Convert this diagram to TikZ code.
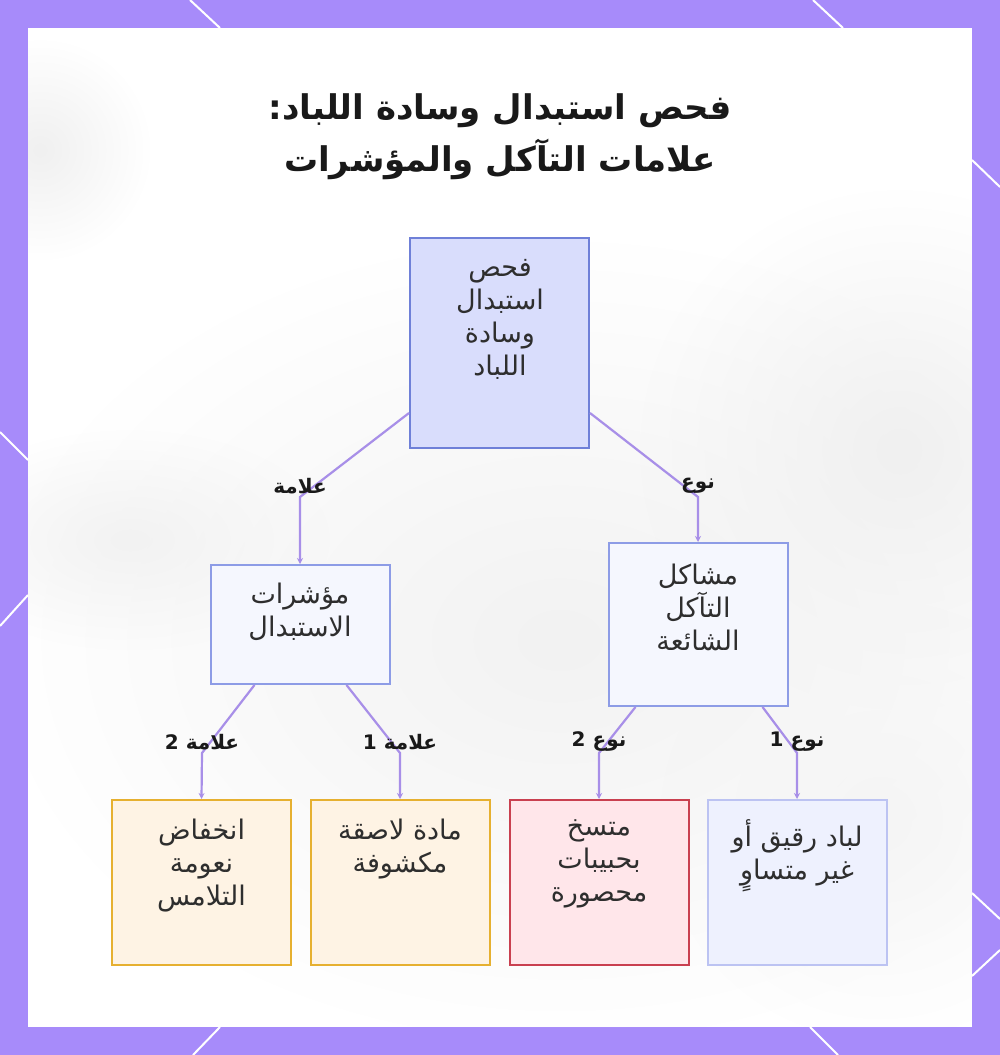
\documentclass[tikz,border=0pt]{standalone}
\usepackage{fontspec}
\usetikzlibrary{arrows.meta,fadings,calc}
\TeXXeTstate=1
\newfontfamily\arabicfont[Script=Arabic]{DejaVu Sans}
\newcommand{\ar}[1]{{\arabicfont\beginR #1\endR}}
\definecolor{frame}{HTML}{A78BFA}
\definecolor{conn}{HTML}{A88FE8}
\definecolor{rootfill}{HTML}{D9DDFC}
\definecolor{rootdraw}{HTML}{6F80D8}
\definecolor{midfill}{HTML}{F5F7FE}
\definecolor{middraw}{HTML}{8D9CE6}
\definecolor{orfill}{HTML}{FEF3E4}
\definecolor{ordraw}{HTML}{E6B030}
\definecolor{redfill}{HTML}{FFE6EA}
\definecolor{reddraw}{HTML}{C94050}
\definecolor{lavfill}{HTML}{EEF1FE}
\definecolor{lavdraw}{HTML}{BCC3F2}
\tikzfading[name=softblob, inner color=transparent!0, outer color=transparent!100]
\begin{document}
\begin{tikzpicture}[x=1pt,y=-1pt,
  box/.style={line width=2pt, minimum width=179pt, inner sep=0pt},
  boxtext/.style={align=center, anchor=north, inner sep=0pt, text=black!82,
    font=\fontsize{27}{33}\selectfont},
  edge/.style={draw=conn, line width=2.2pt, -{Stealth[length=6pt,width=6pt]}},
  lbl/.style={inner sep=1pt, text=black!90, font=\fontsize{20}{22}\selectfont\bfseries},
  ttl/.style={align=center, inner sep=0pt, text=black!90, font=\fontsize{34}{52}\selectfont\bfseries},
  deco/.style={white, line width=2pt}
]
\useasboundingbox (0,0) rectangle (1000,1055);
% frame
\fill[frame] (0,0) rectangle (1000,1055);
\draw[deco] (190,0) -- (220,28);
\draw[deco] (813,0) -- (843,28);
\draw[deco] (972,160) -- (1000,187);
\draw[deco] (972,893) -- (1000,919);
\draw[deco] (1000,950) -- (972,976);
\draw[deco] (0,432) -- (28,460);
\draw[deco] (28,595) -- (0,626);
\draw[deco] (193,1055) -- (220,1027);
\draw[deco] (810,1027) -- (838,1055);
\fill[white] (28,28) rectangle (972,1027);
% faint blurred background
\begin{scope}
\clip (28,28) rectangle (972,1027);
\fill[black!6, path fading=softblob] (40,150) circle (110);
\fill[black!5, path fading=softblob] (560,640) ellipse [x radius=560, y radius=400];
\fill[black!6, path fading=softblob] (900,450) circle (260);
\fill[black!5, path fading=softblob] (130,540) ellipse [x radius=200, y radius=110];
\fill[black!4, path fading=softblob] (880,820) circle (220);
\end{scope}
% title
\node[ttl] (title) at (500,137) {\ar{فحص استبدال وسادة اللباد:}\\ \ar{علامات التآكل والمؤشرات}};
% boxes
\node[box, draw=rootdraw, fill=rootfill, minimum height=210pt] (root) at (499.5,343) {};
\node[box, draw=middraw, fill=midfill, minimum height=119pt] (lm) at (300,624.5) {};
\node[box, draw=middraw, fill=midfill, minimum height=163pt] (rm) at (698,624.5) {};
\node[box, draw=ordraw, fill=orfill, minimum height=165pt] (b1) at (201.5,882.5) {};
\node[box, draw=ordraw, fill=orfill, minimum height=165pt] (b2) at (400,882.5) {};
\node[box, draw=reddraw, fill=redfill, minimum height=165pt] (b3) at (599,882.5) {};
\node[box, draw=lavdraw, fill=lavfill, minimum height=165pt] (b4) at (797,882.5) {};
% box texts
\node[boxtext] (troot) at (500,259) {\ar{فحص}\\ \ar{استبدال}\\ \ar{وسادة}\\ \ar{اللباد}};
\node[boxtext] (tlm) at (300,583) {\ar{مؤشرات}\\ \ar{الاستبدال}};
\node[boxtext] (trm) at (698,564) {\ar{مشاكل}\\ \ar{التآكل}\\ \ar{الشائعة}};
\node[boxtext] (tb1) at (201.5,819) {\ar{انخفاض}\\ \ar{نعومة}\\ \ar{التلامس}};
\node[boxtext] (tb2) at (400,819) {\ar{مادة لاصقة}\\ \ar{مكشوفة}};
\node[boxtext] (tb3) at (599,819) {\ar{متسخ}\\ \ar{بحبيبات}\\ \ar{محصورة}};
\node[boxtext] (tb4) at (797,819) {\ar{لباد رقيق أو}\\ \ar{غير متساوٍ}};
% bends
\coordinate (k1) at (300,497);
\coordinate (k2) at (698,497);
\coordinate (k3) at (202,753);
\coordinate (k4) at (400,753);
\coordinate (k5) at (599,753);
\coordinate (k6) at (797,753);
% connectors
\draw[edge] ($(root.south west)+(0,-36)$) -- (k1) -- (lm.north);
\draw[edge] ($(root.south east)+(0,-36)$) -- (k2) -- (rm.north);
\draw[edge] ($(lm.south west)+(45,0)$) -- (k3) -- (b1.north);
\draw[edge] ($(lm.south east)+(-44,0)$) -- (k4) -- (b2.north);
\draw[edge] ($(rm.south west)+(28,0)$) -- (k5) -- (b3.north);
\draw[edge] ($(rm.south east)+(-26,0)$) -- (k6) -- (b4.north);
% labels
\node[lbl] (l1) at ($(k1)+(0,-11)$) {\ar{علامة}};
\node[lbl] (l2) at ($(k2)+(0,-11)$) {\ar{نوع}};
\node[lbl] (l3) at ($(k3)+(0,-11)$) {\ar{علامة 2}};
\node[lbl] (l4) at ($(k4)+(0,-11)$) {\ar{علامة 1}};
\node[lbl] (l5) at ($(k5)+(0,-11)$) {\ar{نوع 2}};
\node[lbl] (l6) at ($(k6)+(0,-11)$) {\ar{نوع 1}};
\end{tikzpicture}
\end{document}
